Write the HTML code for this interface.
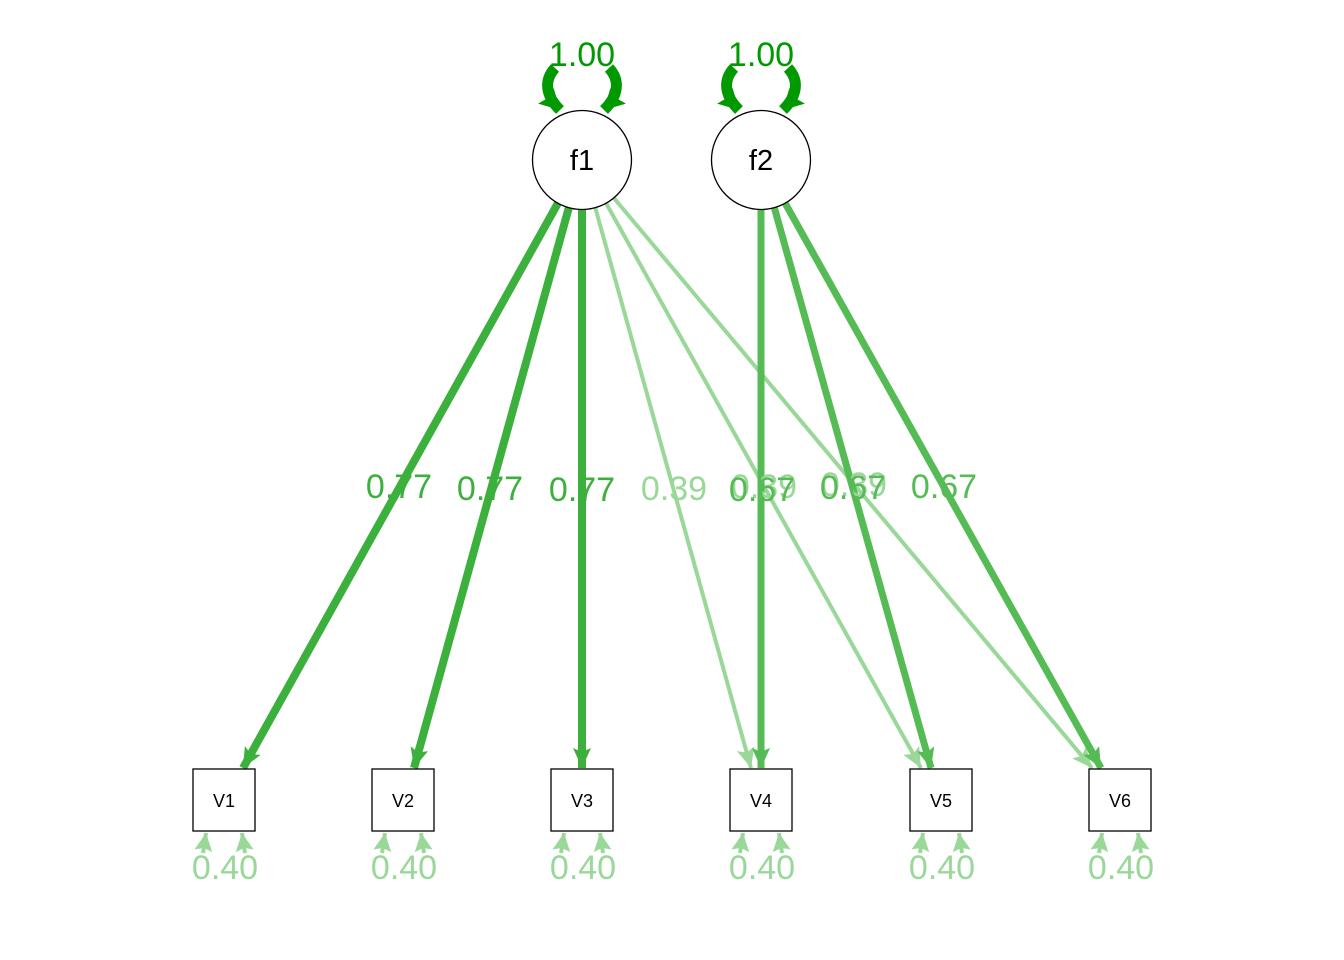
<!DOCTYPE html>
<html><head><meta charset="utf-8"><style>
html,body{margin:0;padding:0;background:#fff;}
svg{display:block;font-family:"Liberation Sans",sans-serif;}
</style></head><body>
<svg width="1344" height="960" viewBox="0 0 1344 960" xmlns="http://www.w3.org/2000/svg">
<defs>
<marker id="a1" markerUnits="userSpaceOnUse" markerWidth="22" markerHeight="22" refX="20" refY="9" orient="auto"><path d="M0,0 L20,9 L0,18 L4,9 Z" fill="#3cb03c"/></marker>
<marker id="a2" markerUnits="userSpaceOnUse" markerWidth="22" markerHeight="22" refX="20" refY="9" orient="auto"><path d="M0,0 L20,9 L0,18 L4,9 Z" fill="#9ad89a"/></marker>
<marker id="a3" markerUnits="userSpaceOnUse" markerWidth="22" markerHeight="22" refX="20" refY="9" orient="auto"><path d="M0,0 L20,9 L0,18 L4,9 Z" fill="#55bb55"/></marker>
<marker id="a4" markerUnits="userSpaceOnUse" markerWidth="26" markerHeight="26" refX="20" refY="11" orient="auto"><path d="M0,0 L20,11 L0,22 L3,11 Z" fill="#009900"/></marker>
<marker id="a5" markerUnits="userSpaceOnUse" markerWidth="22" markerHeight="22" refX="18" refY="9" orient="auto"><path d="M0,0 L18,9 L0,18 L3,9 Z" fill="#9ad89a"/></marker>
</defs>
<g fill="none">
<line x1="582" y1="160" x2="243" y2="768" stroke="#3cb03c" stroke-width="8" marker-end="url(#a1)"/>
<line x1="582" y1="160" x2="414" y2="768" stroke="#3cb03c" stroke-width="8" marker-end="url(#a1)"/>
<line x1="582" y1="160" x2="582" y2="768" stroke="#3cb03c" stroke-width="8" marker-end="url(#a1)"/>
<line x1="582" y1="160" x2="751" y2="768" stroke="#9ad89a" stroke-width="4" marker-end="url(#a2)"/>
<line x1="582" y1="160" x2="921" y2="768" stroke="#9ad89a" stroke-width="4" marker-end="url(#a2)"/>
<line x1="582" y1="160" x2="1092" y2="768" stroke="#9ad89a" stroke-width="4" marker-end="url(#a2)"/>
<line x1="761" y1="160" x2="761" y2="768" stroke="#55bb55" stroke-width="7" marker-end="url(#a3)"/>
<line x1="761" y1="160" x2="931" y2="768" stroke="#55bb55" stroke-width="7" marker-end="url(#a3)"/>
<line x1="761" y1="160" x2="1101" y2="768" stroke="#55bb55" stroke-width="7" marker-end="url(#a3)"/>
<path d="M555,68 C544,80 545,95 560,110" stroke="#009900" stroke-width="11" marker-end="url(#a4)"/>
<path d="M609,68 C620,80 619,95 604,110" stroke="#009900" stroke-width="11" marker-end="url(#a4)"/>
<path d="M734,68 C723,80 724,95 739,110" stroke="#009900" stroke-width="11" marker-end="url(#a4)"/>
<path d="M788,68 C799,80 798,95 783,110" stroke="#009900" stroke-width="11" marker-end="url(#a4)"/>
</g>
<circle cx="582" cy="160" r="49.5" fill="#fff" stroke="#000" stroke-width="1.3"/>
<circle cx="761" cy="160" r="49.5" fill="#fff" stroke="#000" stroke-width="1.3"/>
<g font-size="29" text-anchor="middle" fill="#000">
<text x="582" y="170">f1</text><text x="761" y="170">f2</text>
</g>
<g fill="#fff" stroke="#000" stroke-width="1.3">
<rect x="193" y="769" width="62" height="62"/><rect x="372" y="769" width="62" height="62"/>
<rect x="551" y="769" width="62" height="62"/><rect x="730" y="769" width="62" height="62"/>
<rect x="910" y="769" width="62" height="62"/><rect x="1089" y="769" width="62" height="62"/>
</g>
<g font-size="18" text-anchor="middle" fill="#000">
<text x="224" y="807">V1</text><text x="403" y="807">V2</text><text x="582" y="807">V3</text>
<text x="761" y="807">V4</text><text x="941" y="807">V5</text><text x="1120" y="807">V6</text>
</g>
<g stroke="#9ad89a" stroke-width="4" fill="none">
<path d="M203,853 L206,833" marker-end="url(#a5)"/><path d="M245,853 L242,833" marker-end="url(#a5)"/>
<path d="M382,853 L385,833" marker-end="url(#a5)"/><path d="M424,853 L421,833" marker-end="url(#a5)"/>
<path d="M561,853 L564,833" marker-end="url(#a5)"/><path d="M603,853 L600,833" marker-end="url(#a5)"/>
<path d="M740,853 L743,833" marker-end="url(#a5)"/><path d="M782,853 L779,833" marker-end="url(#a5)"/>
<path d="M920,853 L923,833" marker-end="url(#a5)"/><path d="M962,853 L959,833" marker-end="url(#a5)"/>
<path d="M1099,853 L1102,833" marker-end="url(#a5)"/><path d="M1141,853 L1138,833" marker-end="url(#a5)"/>
</g>
<g font-size="34" text-anchor="middle">
<text x="582" y="66" fill="#009900">1.00</text><text x="761" y="66" fill="#009900">1.00</text>
<g fill="#9ad89a">
<text x="225" y="879">0.40</text><text x="404" y="879">0.40</text><text x="583" y="879">0.40</text>
<text x="762" y="879">0.40</text><text x="942" y="879">0.40</text><text x="1121" y="879">0.40</text>
<text x="674" y="500">0.39</text><text x="764" y="498">0.39</text><text x="854" y="496">0.39</text>
</g>
<g fill="#3cb03c">
<text x="399" y="498">0.77</text><text x="490" y="500">0.77</text><text x="582" y="501">0.77</text>
</g>
<g fill="#55bb55">
<text x="762" y="501">0.67</text><text x="853" y="499">0.67</text><text x="944" y="498">0.67</text>
</g>
</g>
</svg>
</body></html>
